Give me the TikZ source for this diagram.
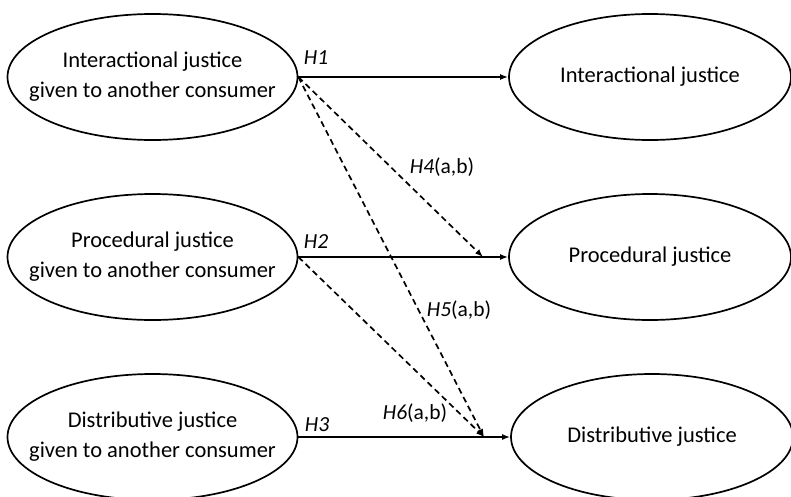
\documentclass[tikz,border=0pt]{standalone}
\usepackage{fontspec}
\setmainfont{Carlito}
\usetikzlibrary{shapes.geometric,arrows.meta}
\tikzset{
  construct/.style={ellipse,draw,line width=1.7pt,inner ysep=0pt,inner xsep=-40pt,minimum height=126pt,align=center,font=\fontsize{22.5}{30}\selectfont},
  given/.style={construct,minimum width=290pt},
  outcome/.style={construct,minimum width=282pt},
  hyp/.style={font=\fontsize{21.5}{24}\selectfont},
  link/.style={line width=1.7pt,-{Latex[length=8pt,width=6pt]}},
  dlink/.style={link,dash pattern=on 6pt off 4pt}
}

\begin{document}
\begin{tikzpicture}[x=1pt,y=-1pt]
\useasboundingbox (0,0) rectangle (791,496);
\path
(152.5,77)  node[given] (ijg) {Interactional justice\\given to another consumer}
(152.5,257) node[given] (pjg) {Procedural justice\\given to another consumer}
(152.5,437) node[given] (djg) {Distributive justice\\given to another consumer}
(650,77)    node[outcome] (ij) {Interactional justice}
(650,257)   node[outcome] (pj) {Procedural justice}
(652,437)   node[outcome] (dj) {Distributive justice};

\coordinate (p2) at (483,257);
\coordinate (p3) at (484,437);

\draw[link] (ijg.east)--(ij.west);
\draw[link] (pjg.east)--(pj.west);
\draw[link] (djg.east)--(dj.west);
\draw[dlink] (ijg.east)--(p2);
\draw[dlink] (ijg.east)--(p3);
\draw[dlink] (pjg.east)--(p3);

\node[hyp] (h1) at (316,58) {\textit{H1}};
\node[hyp] (h2) at (316,242) {\textit{H2}};
\node[hyp] (h3) at (317,425) {\textit{H3}};
\node[hyp] (h4) at (442,167) {\textit{H4}(a,b)};
\node[hyp] (h5) at (459,310) {\textit{H5}(a,b)};
\node[hyp] (h6) at (415,413) {\textit{H6}(a,b)};
\end{tikzpicture}
\end{document}
